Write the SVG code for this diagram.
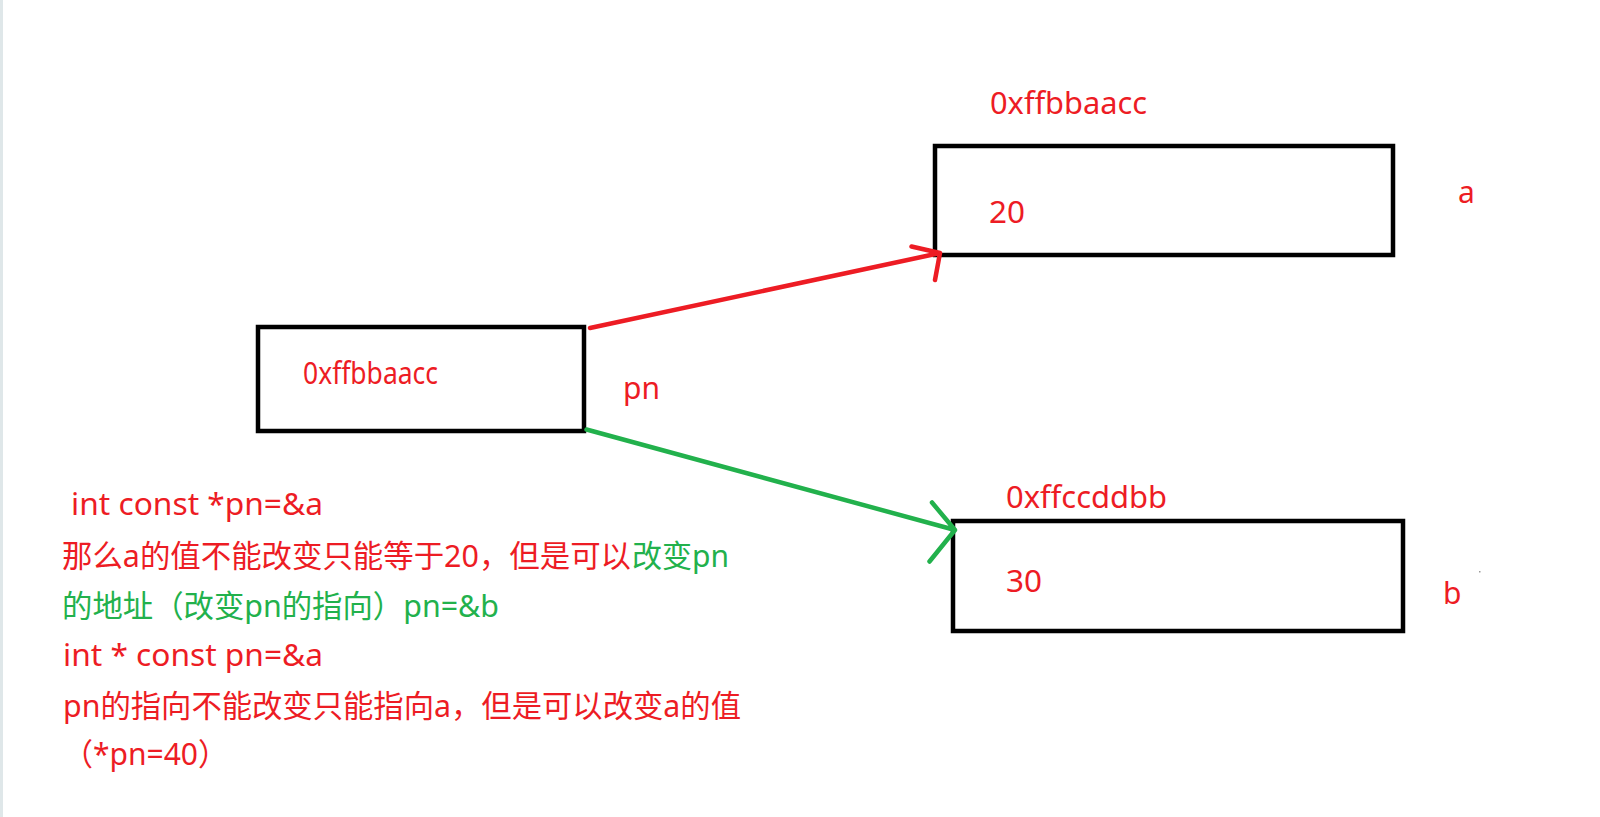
<svg xmlns="http://www.w3.org/2000/svg" width="1600" height="817" viewBox="0 0 1600 817">
<style>
  .box { fill: none; stroke: #000; stroke-width: 4.5; }
  .r { fill: #ED1C24; }
  .g { fill: #22B14C; }
  text { font-family: "Noto Sans", "Noto Sans CJK SC", sans-serif; font-size: 30px; }
  .n { font-size: 31px; }
  .lr { stroke: #ED1C24; stroke-width: 4.5; fill: none; stroke-linecap: round; stroke-linejoin: round; }
  .lg { stroke: #22B14C; stroke-width: 4.5; fill: none; stroke-linecap: round; stroke-linejoin: round; }
</style>
<rect x="0" y="0" width="1600" height="817" fill="#ffffff"/>
<rect x="0" y="0" width="3" height="817" fill="#dfe7e9"/>

<g id="node-pn">
  <rect class="box" x="258" y="327" width="326" height="104"/>
  <text class="r" x="303" y="384" textLength="135" lengthAdjust="spacingAndGlyphs">0xffbbaacc</text>
  <text class="r" x="623" y="399" textLength="37" lengthAdjust="spacingAndGlyphs">pn</text>
</g>

<g id="node-a">
  <text class="r" x="990" y="114" textLength="157" lengthAdjust="spacingAndGlyphs">0xffbbaacc</text>
  <rect class="box" x="935" y="146" width="458" height="109"/>
  <text class="r" x="989" y="223" font-size="31" textLength="36" lengthAdjust="spacingAndGlyphs">20</text>
  <text class="r" x="1458" y="203">a</text>
</g>

<g id="node-b">
  <text class="r" x="1006" y="508" textLength="161" lengthAdjust="spacingAndGlyphs">0xffccddbb</text>
  <rect class="box" x="953" y="521" width="450" height="110"/>
  <text class="r" x="1006" y="592" font-size="31" textLength="36" lengthAdjust="spacingAndGlyphs">30</text>
  <text class="r" x="1443" y="604">b</text>
  <rect x="1479" y="571" width="1.5" height="1.5" fill="#9a9a9a"/>
</g>

<g id="connectors">
  <path class="lr" d="M590,328 L940,253 M911.5,246.5 L940,253 L935,280"/>
  <path class="lg" d="M586.5,429.5 L955,530 M932,502.5 L955,530 L929.5,561.5"/>
</g>

<g id="notes">
  <text class="r n" x="71" y="515" textLength="252" lengthAdjust="spacingAndGlyphs">int const *pn=&amp;a</text>
  <text class="r n" x="62" y="567" textLength="569" lengthAdjust="spacingAndGlyphs">那么a的值不能改变只能等于20，但是可以</text>
  <text class="g n" x="632" y="567" textLength="97" lengthAdjust="spacingAndGlyphs">改变pn</text>
  <text class="g n" x="62" y="617" textLength="437" lengthAdjust="spacingAndGlyphs">的地址（改变pn的指向）pn=&amp;b</text>
  <text class="r n" x="63" y="666" textLength="260" lengthAdjust="spacingAndGlyphs">int * const pn=&amp;a</text>
  <text class="r n" x="63" y="717" textLength="678" lengthAdjust="spacingAndGlyphs">pn的指向不能改变只能指向a，但是可以改变a的值</text>
  <text class="r n" x="63" y="765" textLength="165" lengthAdjust="spacingAndGlyphs">（*pn=40）</text>
</g>
</svg>
